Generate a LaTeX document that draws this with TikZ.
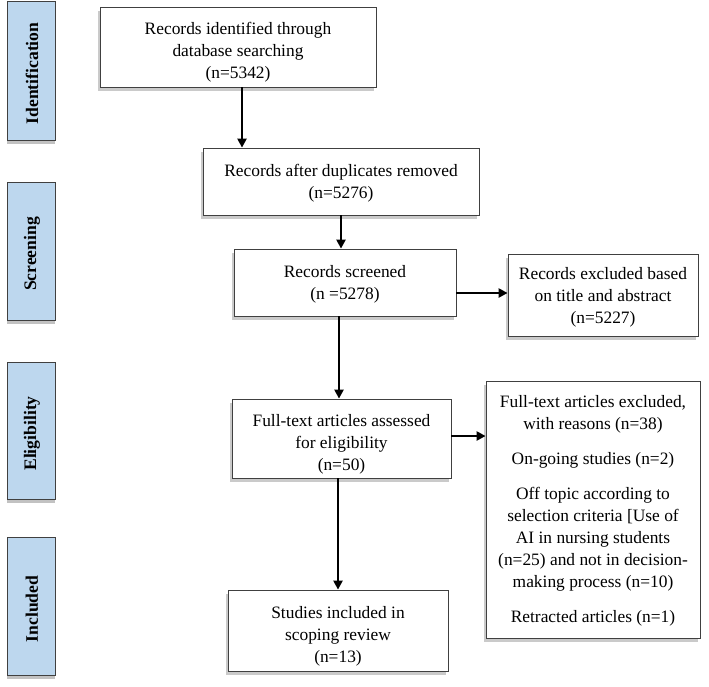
\documentclass[tikz,border=0pt]{standalone}
\usepackage{fontspec}
\setmainfont{Liberation Serif}
\usetikzlibrary{arrows.meta,shadows}
\definecolor{phase}{HTML}{BDD7EE}
\begin{document}
\begin{tikzpicture}[x=1pt,y=-1pt,
  box/.style={draw=black!75,line width=0.8pt,fill=white,align=center,font=\fontsize{17.4}{22}\selectfont,
    drop shadow={shadow xshift=-2pt,shadow yshift=-4pt,fill=black!35,opacity=0.6},inner sep=0pt},
  txt/.style={align=center,font=\fontsize{17.4}{22}\selectfont,inner sep=0pt},
  phasebox/.style={draw=black!75,line width=0.8pt,fill=phase,
    drop shadow={shadow xshift=0pt,shadow yshift=-4pt,fill=black!40,opacity=0.6},inner sep=0pt},
  phasetxt/.style={rotate=90,font=\fontsize{17.6}{20}\bfseries\selectfont},
  arr/.style={-{Triangle[length=9pt,width=9pt]},line width=2.4pt}]
\useasboundingbox (0,0) rectangle (709,686);
% phase boxes
\foreach \n/\t/\a/\b in {id/Identification/1/140, sc/Screening/182/320, el/Eligibility/362/499, in/Included/537/675}{
  \node[phasebox,minimum width=48pt,minimum height={\b-\a}] (\n) at (31,{(\a+\b)/2}) {};
  \node[phasetxt] at ([xshift=1pt,yshift=-3pt]\n.center) {\t};
}
% main boxes
\node[box,minimum width=276pt,minimum height=80pt] (b1) at (238,47) {};
\node[txt] (t1) at ([yshift=-5pt]b1.center) {Records identified through\\database searching\\(n=5342)};
\node[box,minimum width=276pt,minimum height=67pt] (b2) at (341,181.5) {};
\node[txt] (t2) at ([yshift=-2pt]b2.center) {Records after duplicates removed\\(n=5276)};
\node[box,minimum width=222pt,minimum height=67pt] (b3) at (345,282.5) {};
\node[txt] (t3) at ([yshift=-2pt]b3.center) {Records screened\\(n =5278)};
\node[box,minimum width=190pt,minimum height=82pt] (b4) at (603,295) {};
\node[txt] (t4) at ([yshift=-2pt]b4.center) {Records excluded based\\on title and abstract\\(n=5227)};
\node[box,minimum width=219pt,minimum height=79pt] (b5) at (341.5,438.5) {};
\node[txt] (t5) at ([yshift=-6pt]b5.center) {Full-text articles assessed\\for eligibility\\(n=50)};
\node[box,minimum width=214pt,minimum height=257pt] (b6) at (593,509.5) {};
\node[txt] (t6) at ([yshift=-1pt]b6.center) {Full-text articles excluded,\\with reasons (n=38)\\[13pt]On-going studies (n=2)\\[13pt]Off topic according to\\selection criteria [Use of\\AI in nursing students\\(n=25) and not in decision-\\making process (n=10)\\[13pt]Retracted articles (n=1)};
\node[box,minimum width=220pt,minimum height=81pt] (b7) at (338,630.5) {};
\node[txt] (t7) at ([yshift=-6pt]b7.center) {Studies included in\\scoping review\\(n=13)};
% arrows
\draw[arr] (b1.south -| 242,0) -- (b2.north -| 242,0);
\draw[arr] (b2.south -| 341,0) -- (b3.north -| 341,0);
\draw[arr] (b3.east |- 0,293) -- (b4.west |- 0,293);
\draw[arr] (b3.south -| 339,0) -- (b5.north -| 339,0);
\draw[arr] (b5.east |- 0,436) -- (b6.west |- 0,436);
\draw[arr] (b5.south -| 338,0) -- (b7.north -| 338,0);
\end{tikzpicture}
\end{document}
